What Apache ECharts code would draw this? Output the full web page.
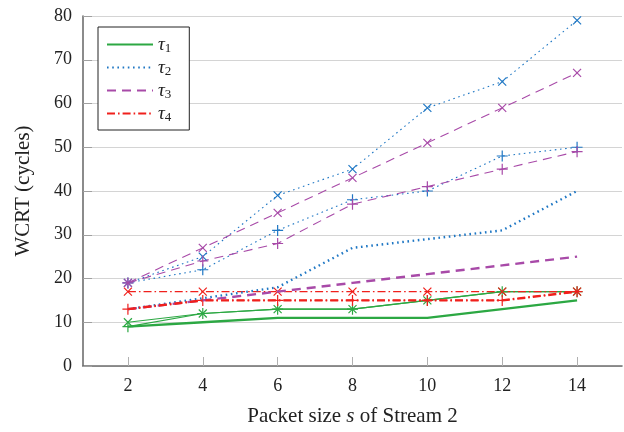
<!DOCTYPE html>
<html>
<head>
<meta charset="utf-8">
<script src="https://cdn.jsdelivr.net/npm/echarts@6/dist/echarts.min.js"></script>
<style>
  html, body { margin: 0; padding: 0; background: #fff; }
  #chart { width: 624px; height: 432px; }
</style>
</head>
<body>
<div id="chart"></div>
<script>
// packet size of stream 2
var sizes = [2, 4, 6, 8, 10, 12, 14];
var xTicks = [2, 4, 6, 8, 10, 12, 14];
var yTicks = [0, 10, 20, 30, 40, 50, 60, 70, 80];

// tau1
var t1Plain = [9, 10, 11, 11, 11, 13, 15];
var t1Plus = [9, 12, 13, 13, 15, 17, 17];
var t1Cross = [10, 12, 13, 13, 15, 17, 17];
// tau2
var t2Plain = [13, 15.5, 18, 27, 29, 31, 40];
var t2Plus = [19, 22, 31, 38, 40, 48, 50];
var t2Cross = [19, 25, 39, 45, 59, 65, 79];
// tau3
var t3Plain = [13, 15, 17, 19, 21, 23, 25];
var t3Plus = [19, 24, 28, 37, 41, 45, 49];
var t3Cross = [19, 27, 35, 43, 51, 59, 67];
// tau4
var t4Plain = [13, 15, 15, 15, 15, 15, 17];
var t4Plus = [13, 15, 15, 15, 15, 15, 17];
var t4Cross = [17, 17, 17, 17, 17, 17, 17];

var colors = ['#2ca843', '#1f77c4', '#a84aa8', '#f0201c'];
var dashes = [
    'solid',
    [1.6, 3.6],
    [9, 6],
    [8, 3, 1.6, 3]
];
var PLUS = 'path://M5,0L5,10M0,5L10,5';
var CROSS = 'path://M0,0L10,10M10,0L0,10';

var chart = echarts.init(document.getElementById('chart'));

var pairs = function (vals) {
    return sizes.map(function (s, i) {
        return [s, vals[i]];
    });
};

var series = [];
var addTau = function (k, plain, plus, cross) {
    var c = colors[k];
    var d = dashes[k];
    series.push({
        name: 'τ' + (k + 1),
        type: 'line',
        data: pairs(plain),
        symbol: 'none',
        lineStyle: {color: c, width: 2.4, type: d},
        itemStyle: {color: c},
        z: 3
    });
    series.push({
        name: 'τ' + (k + 1) + '+',
        type: 'line',
        data: pairs(plus),
        symbol: PLUS,
        symbolSize: 11,
        lineStyle: {color: c, width: 1.1, type: d},
        itemStyle: {color: c, borderColor: c, borderWidth: 1.2},
        z: 2
    });
    series.push({
        name: 'τ' + (k + 1) + 'x',
        type: 'line',
        data: pairs(cross),
        symbol: CROSS,
        symbolSize: 8,
        lineStyle: {color: c, width: 1.1, type: d},
        itemStyle: {color: c, borderColor: c, borderWidth: 1.2},
        z: 2
    });
};
addTau(0, t1Plain, t1Plus, t1Cross);
addTau(1, t2Plain, t2Plus, t2Cross);
addTau(2, t3Plain, t3Plus, t3Cross);
addTau(3, t4Plain, t4Plus, t4Cross);

var serif = '"Liberation Serif", "DejaVu Serif", serif';

var option = {
    animation: false,
    textStyle: {fontFamily: serif},
    grid: {left: 83, right: 2, top: 16, bottom: 60},
    legend: {
        data: ['τ1', 'τ2', 'τ3', 'τ4'],
        orient: 'vertical',
        left: 98,
        top: 27,
        padding: [7, 18, 6, 8],
        itemWidth: 46,
        itemHeight: 14,
        itemGap: 2,
        borderColor: '#222',
        borderWidth: 1,
        backgroundColor: '#fff',
        itemStyle: {opacity: 0},
        formatter: function (name) {
            return '{t|τ}{s|' + name.slice(1) + '}';
        },
        textStyle: {
            rich: {
                t: {fontFamily: serif, fontStyle: 'italic', fontSize: 19, lineHeight: 20, color: '#222'},
                s: {fontFamily: serif, fontSize: 13, lineHeight: 12, color: '#222', padding: [8, 0, 0, 0]}
            }
        }
    },
    xAxis: {
        type: 'value',
        min: 0.8,
        max: 15.2,
        name: '{n|Packet size }{i|s}{n| of Stream 2}',
        nameLocation: 'middle',
        nameGap: 40,
        nameTextStyle: {
            rich: {
                n: {fontFamily: serif, fontSize: 21, color: '#222'},
                i: {fontFamily: serif, fontSize: 21, fontStyle: 'italic', color: '#222'}
            }
        },
        axisLine: {onZero: false, lineStyle: {color: '#6e6e6e', width: 1.6}},
        axisTick: {inside: true, length: 9, customValues: xTicks, lineStyle: {color: '#b0b0b0', width: 1}},
        axisLabel: {customValues: xTicks, fontFamily: serif, fontSize: 18, color: '#222', margin: 11},
        splitLine: {show: false}
    },
    yAxis: {
        type: 'value',
        min: 0,
        max: 80,
        interval: 10,
        name: 'WCRT (cycles)',
        nameLocation: 'middle',
        nameGap: 49,
        nameTextStyle: {fontFamily: serif, fontSize: 21, color: '#222'},
        axisLine: {show: true, lineStyle: {color: '#6e6e6e', width: 1.6}},
        axisTick: {show: true, inside: true, length: 9, lineStyle: {color: '#a0a0a0', width: 1}},
        axisLabel: {fontFamily: serif, fontSize: 18, color: '#222', margin: 11},
        splitLine: {show: true, lineStyle: {color: '#d4d4d4', width: 1.2}}
    },
    series: series
};
chart.setOption(option);
</script>
</body>
</html>
